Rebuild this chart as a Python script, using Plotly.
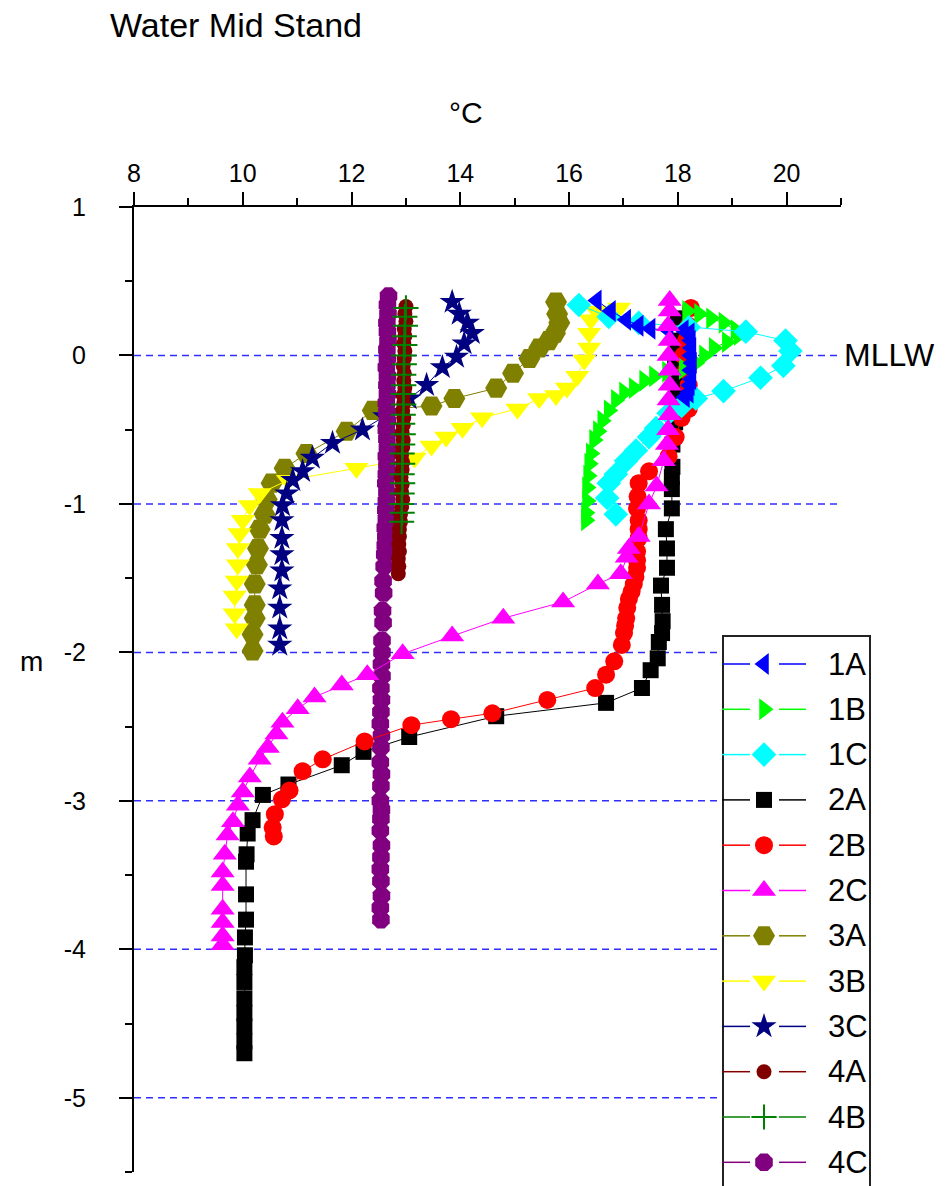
import plotly.graph_objects as go

# ---------------- data (temperature °C, depth m) ----------------
T1A = [16.51, 16.77, 17.05, 17.28, 17.50, 17.83, 18.11, 18.22, 18.24, 18.25, 18.24, 18.26, 18.24, 18.25, 18.22, 18.20, 18.13]
D1A = [0.37, 0.30, 0.24, 0.20, 0.18, 0.17, 0.17, 0.15, 0.10, 0.05, 0.0, -0.05, -0.10, -0.16, -0.20, -0.25, -0.28]

T1B = [18.17, 18.39, 18.61, 18.84, 19.06, 19.12, 18.90, 18.66, 18.48, 18.33, 18.11, 17.80, 17.56, 17.38, 17.19, 17.01, 16.86, 16.73, 16.61, 16.53, 16.46, 16.40, 16.37, 16.35, 16.33, 16.33, 16.31, 16.31]
D1B = [0.30, 0.28, 0.25, 0.22, 0.17, 0.14, 0.09, 0.05, 0.0, -0.05, -0.09, -0.11, -0.14, -0.17, -0.22, -0.25, -0.30, -0.37, -0.44, -0.51, -0.57, -0.66, -0.73, -0.81, -0.89, -0.98, -1.06, -1.11]

T1C = [16.18, 16.73, 17.28, 18.20, 19.25, 19.98, 20.07, 19.94, 19.52, 18.84, 18.33, 18.07, 17.83, 17.60, 17.47, 17.23, 17.05, 16.86, 16.73, 16.70, 16.86]
D1C = [0.34, 0.26, 0.22, 0.19, 0.16, 0.10, 0.03, -0.07, -0.15, -0.24, -0.29, -0.34, -0.39, -0.49, -0.55, -0.64, -0.71, -0.80, -0.86, -0.96, -1.07]

T2A = [18.00, 17.98, 17.95, 17.95, 17.97, 17.95, 17.95, 17.90, 17.90, 17.89, 17.89, 17.89, 17.78, 17.80, 17.80, 17.69, 17.71, 17.72, 17.71, 17.65, 17.63, 17.50, 17.34, 16.68, 14.66, 13.06, 12.22, 11.82, 10.84, 10.37, 10.18, 10.09, 10.07, 10.06, 10.06, 10.06, 10.04, 10.04, 10.03, 10.03, 10.03, 10.03, 10.03, 10.03, 10.03]
D2A = [0.25, 0.10, 0.0, -0.10, -0.20, -0.30, -0.45, -0.60, -0.75, -0.82, -0.90, -1.03, -1.17, -1.30, -1.43, -1.55, -1.68, -1.79, -1.87, -1.93, -2.04, -2.12, -2.24, -2.34, -2.43, -2.57, -2.67, -2.76, -2.89, -2.96, -3.13, -3.22, -3.36, -3.41, -3.63, -3.80, -3.92, -4.04, -4.12, -4.22, -4.33, -4.43, -4.52, -4.62, -4.70]

T2B = [18.24, 18.20, 18.15, 18.10, 18.15, 18.20, 18.20, 18.20, 18.07, 17.96, 17.83, 17.47, 17.28, 17.26, 17.25, 17.28, 17.28, 17.28, 17.25, 17.25, 17.25, 17.22, 17.19, 17.15, 17.10, 17.07, 17.05, 17.03, 17.01, 16.97, 16.83, 16.68, 16.48, 15.60, 14.59, 13.83, 13.10, 12.24, 11.47, 11.10, 10.86, 10.72, 10.59, 10.55, 10.57]
D2B = [0.32, 0.20, 0.10, 0.0, -0.10, -0.20, -0.30, -0.36, -0.42, -0.55, -0.68, -0.78, -0.86, -0.95, -1.03, -1.11, -1.17, -1.23, -1.32, -1.38, -1.43, -1.49, -1.54, -1.59, -1.64, -1.70, -1.77, -1.82, -1.87, -1.95, -2.06, -2.15, -2.24, -2.32, -2.41, -2.45, -2.49, -2.60, -2.72, -2.80, -2.93, -2.99, -3.09, -3.18, -3.24]

T2C = [17.85, 17.85, 17.82, 17.85, 17.83, 17.85, 17.85, 17.83, 17.85, 17.82, 17.80, 17.74, 17.61, 17.47, 17.28, 17.10, 17.06, 16.95, 16.53, 15.89, 14.79, 13.85, 12.94, 12.29, 11.82, 11.32, 11.01, 10.73, 10.62, 10.46, 10.31, 10.13, 10.00, 9.91, 9.82, 9.72, 9.67, 9.63, 9.63, 9.63, 9.63, 9.63, 9.63]
D2C = [0.37, 0.30, 0.20, 0.10, 0.0, -0.10, -0.20, -0.30, -0.40, -0.50, -0.60, -0.71, -0.88, -1.00, -1.22, -1.30, -1.36, -1.47, -1.54, -1.66, -1.77, -1.89, -2.01, -2.15, -2.22, -2.30, -2.38, -2.47, -2.55, -2.64, -2.72, -2.84, -2.94, -3.03, -3.14, -3.23, -3.36, -3.48, -3.57, -3.73, -3.82, -3.91, -3.97]

T3A = [15.76, 15.78, 15.82, 15.74, 15.63, 15.45, 15.27, 14.97, 14.66, 13.89, 13.47, 12.39, 11.91, 11.17, 10.77, 10.53, 10.44, 10.40, 10.31, 10.28, 10.26, 10.22, 10.22, 10.22, 10.18, 10.18]
D3A = [0.36, 0.28, 0.22, 0.15, 0.10, 0.05, -0.02, -0.12, -0.22, -0.29, -0.34, -0.37, -0.51, -0.66, -0.76, -0.86, -0.97, -1.07, -1.17, -1.30, -1.41, -1.54, -1.68, -1.77, -1.88, -1.99]

T3B = [16.92, 16.50, 16.40, 16.37, 16.37, 16.28, 16.15, 15.96, 15.76, 15.45, 15.05, 14.40, 14.04, 13.74, 13.47, 13.16, 12.09, 10.83, 10.31, 10.13, 10.00, 9.94, 9.91, 9.91, 9.89, 9.85, 9.85, 9.89]
D3B = [0.32, 0.30, 0.24, 0.15, 0.05, -0.03, -0.14, -0.22, -0.27, -0.29, -0.36, -0.42, -0.49, -0.55, -0.61, -0.69, -0.76, -0.84, -0.93, -1.01, -1.11, -1.20, -1.30, -1.41, -1.52, -1.62, -1.74, -1.84]

T3C = [13.85, 13.98, 14.13, 14.22, 14.07, 13.93, 13.67, 13.38, 13.06, 12.61, 12.20, 11.65, 11.28, 11.10, 10.92, 10.81, 10.73, 10.72, 10.72, 10.72, 10.72, 10.68, 10.68, 10.68, 10.68]
D3C = [0.36, 0.28, 0.22, 0.15, 0.08, -0.01, -0.08, -0.20, -0.29, -0.41, -0.50, -0.59, -0.69, -0.78, -0.84, -0.93, -1.01, -1.11, -1.23, -1.34, -1.45, -1.57, -1.70, -1.84, -1.95]

T4A = [13.00, 12.98, 13.00, 12.97, 12.98, 12.96, 12.98, 12.97, 12.95, 12.97, 12.96, 12.98, 12.95, 12.96, 12.94, 12.96, 12.95, 12.93, 12.95, 12.94, 12.92, 12.94, 12.93, 12.91, 12.93, 12.92, 12.94, 12.92, 12.90, 12.90, 12.88, 12.88, 12.87, 12.88, 12.86, 12.87, 12.86]
D4A = [0.33, 0.28, 0.23, 0.18, 0.13, 0.08, 0.03, -0.02, -0.07, -0.12, -0.17, -0.22, -0.27, -0.32, -0.37, -0.42, -0.47, -0.52, -0.57, -0.62, -0.67, -0.72, -0.77, -0.82, -0.87, -0.92, -0.97, -1.02, -1.07, -1.12, -1.17, -1.22, -1.27, -1.32, -1.37, -1.42, -1.47]

T4B = [13.00, 12.98, 12.99, 12.97, 12.98, 12.96, 12.97, 12.96, 12.96, 12.95, 12.96, 12.95, 12.94, 12.95, 12.94, 12.93, 12.94, 12.93, 12.94, 12.93, 12.92, 12.93, 12.92]
D4B = [0.32, 0.26, 0.20, 0.13, 0.07, 0.0, -0.06, -0.13, -0.20, -0.26, -0.33, -0.40, -0.46, -0.53, -0.60, -0.66, -0.73, -0.80, -0.86, -0.93, -1.00, -1.06, -1.12]

T4C = [12.68, 12.66, 12.67, 12.65, 12.66, 12.67, 12.65, 12.66, 12.64, 12.66, 12.65, 12.66, 12.64, 12.65, 12.66, 12.64, 12.65, 12.66, 12.64, 12.65, 12.64, 12.63, 12.65, 12.64, 12.63, 12.64, 12.62, 12.63, 12.62, 12.61,
       12.60, 12.58, 12.59, 12.57, 12.58, 12.56,
       12.56, 12.55, 12.56, 12.54, 12.55, 12.54, 12.53, 12.55, 12.54,
       12.53, 12.55, 12.54, 12.53, 12.55, 12.54, 12.53, 12.55, 12.54, 12.53, 12.54, 12.55, 12.53, 12.54]
D4C = [0.40, 0.34, 0.28, 0.22, 0.16, 0.10, 0.04, -0.02, -0.08, -0.14, -0.20, -0.26, -0.32, -0.38, -0.44, -0.50, -0.56, -0.62, -0.68, -0.74, -0.80, -0.86, -0.92, -0.98, -1.04, -1.10, -1.16, -1.22, -1.28, -1.34,
       -1.42, -1.52, -1.60, -1.72, -1.80, -1.92,
       -2.00, -2.08, -2.16, -2.24, -2.32, -2.40, -2.48, -2.56, -2.64,
       -2.74, -2.82, -2.90, -3.00, -3.06, -3.12, -3.20, -3.30, -3.38, -3.46, -3.54, -3.64, -3.72, -3.80]

GRID_DEPTHS = [0, -1, -2, -3, -4, -5]
Y_TICKS = [1, 0, -1, -2, -3, -4, -5]
Y_TICK_TEXT = ["1", "0", "-1", "-2", "-3", "-4", "-5"]
LEGEND_ORDER = ["1A", "1B", "1C", "2A", "2B", "2C", "3A", "3B", "3C", "4A", "4B", "4C"]

# ---------------- styles ----------------
FONT = "Liberation Sans, Arial, sans-serif"
series = {
    "1A": dict(x=T1A, y=D1A, color="#0000ff", symbol="triangle-left", size=19),
    "1B": dict(x=T1B, y=D1B, color="#00ff00", symbol="triangle-right", size=19),
    "1C": dict(x=T1C, y=D1C, color="#00ffff", symbol="diamond", size=19),
    "2A": dict(x=T2A, y=D2A, color="#000000", symbol="square", size=16),
    "2B": dict(x=T2B, y=D2B, color="#ff0000", symbol="circle", size=18),
    "2C": dict(x=T2C, y=D2C, color="#ff00ff", symbol="triangle-up", size=21),
    "3A": dict(x=T3A, y=D3A, color="#808000", symbol="hexagon2", size=22),
    "3B": dict(x=T3B, y=D3B, color="#ffff00", symbol="triangle-down", size=21),
    "3C": dict(x=T3C, y=D3C, color="#000080", symbol="star", size=19),
    "4A": dict(x=T4A, y=D4A, color="#800000", symbol="circle", size=15),
    "4B": dict(x=T4B, y=D4B, color="#008000", symbol="cross-thin", size=18),
    "4C": dict(x=T4C, y=D4C, color="#800080", symbol="octagon", size=19),
}
draw_order = ["2A", "3A", "3B", "3C", "4C", "4A", "4B", "2B", "1B", "1C", "1A", "2C"]


def marker_for(s, size=None):
    m = dict(symbol=s["symbol"], size=size or s["size"], color=s["color"])
    if s["symbol"] == "cross-thin":
        m["line"] = dict(color=s["color"], width=2)
    else:
        m["line"] = dict(width=0)
    return m


fig = go.Figure()
for name in draw_order:
    s = series[name]
    fig.add_trace(go.Scatter(
        x=s["x"], y=s["y"], mode="lines+markers", name=name,
        line=dict(color=s["color"], width=1),
        marker=marker_for(s), showlegend=False,
    ))

# ---------------- layout geometry (pixels) ----------------
W, H = 947, 1186
L, R, TOP, B = 134, 106, 207, 14
PX0, PX1 = L, W - R
PY0, PY1 = TOP, H - B


def paper_x(px):
    return (px - PX0) / (PX1 - PX0)


def paper_y(py):
    return (PY1 - py) / (PY1 - PY0)


# ---------------- manual legend (pixel overlay axes) ----------------
leg_left, leg_right, leg_top = 723, 870, 636
leg_y0, leg_dy = 664, 45.3
sym_x, line_a, line_b = 764, (722, 750), (779, 806)
for i, name in enumerate(LEGEND_ORDER):
    s = series[name]
    yy = leg_y0 + i * leg_dy
    fig.add_trace(go.Scatter(
        x=[line_a[0], line_a[1], None, line_b[0], line_b[1]], y=[yy, yy, None, yy, yy],
        mode="lines", line=dict(color=s["color"], width=1.5),
        xaxis="x2", yaxis="y2", showlegend=False, hoverinfo="skip"))
    fig.add_trace(go.Scatter(
        x=[sym_x], y=[yy], mode="markers", marker=marker_for(s),
        xaxis="x2", yaxis="y2", showlegend=False, hoverinfo="skip"))
    fig.add_annotation(x=paper_x(826), xref="paper", y=yy, yref="y2", text=name,
                       showarrow=False, xanchor="left", yanchor="middle",
                       font=dict(family=FONT, size=31, color="black"))

shapes = []
for d in GRID_DEPTHS:
    shapes.append(dict(type="line", xref="x", yref="y", x0=8, x1=(21 if d > -2 else 18.8),
                       y0=d, y1=d, layer="below",
                       line=dict(color="#2f2fff", width=1.5, dash="7px,5px")))
shapes.append(dict(type="rect", xref="paper", yref="paper",
                   x0=paper_x(leg_left), x1=paper_x(leg_right),
                   y0=paper_y(H + 20), y1=paper_y(leg_top),
                   line=dict(color="#222222", width=2), fillcolor="rgba(0,0,0,0)", layer="below"))

fig.update_layout(
    width=W, height=H,
    margin=dict(l=L, r=R, t=TOP, b=B),
    plot_bgcolor="white", paper_bgcolor="white",
    showlegend=False,
    font=dict(family=FONT, color="black"),
    shapes=shapes,
    xaxis=dict(range=[8, 21], side="top", showline=True, linecolor="black", linewidth=2,
               ticks="outside", ticklen=13, tickwidth=2, tickcolor="black",
               tick0=8, dtick=2, showgrid=False, zeroline=False,
               tickfont=dict(family=FONT, size=25, color="black"),
               minor=dict(tick0=8, dtick=1, ticks="outside", ticklen=7, tickwidth=2,
                          tickcolor="black", showgrid=False)),
    yaxis=dict(range=[-5.5, 1], showline=True, linecolor="black", linewidth=2,
               ticks="outside", ticklen=13, tickwidth=2, tickcolor="black",
               tickmode="array", tickvals=Y_TICKS, ticktext=Y_TICK_TEXT,
               showgrid=False, zeroline=False,
               ticklabelstandoff=28,
               tickfont=dict(family=FONT, size=25, color="black"),
               minor=dict(tick0=0, dtick=0.5, ticks="outside", ticklen=7, tickwidth=2,
                          tickcolor="black", showgrid=False)),
    xaxis2=dict(range=[PX0, PX1], overlaying="x", anchor="y2", visible=False, fixedrange=True),
    yaxis2=dict(range=[PY1, PY0], overlaying="y", anchor="x2", visible=False, fixedrange=True),
)

# texts
fig.add_annotation(x=paper_x(108), y=paper_y(25), xref="paper", yref="paper", text="Water Mid Stand",
                   showarrow=False, xanchor="left", yanchor="middle",
                   font=dict(family=FONT, size=34, color="black"))
fig.add_annotation(x=paper_x(466), y=paper_y(112), xref="paper", yref="paper", text="°C",
                   showarrow=False, xanchor="center", yanchor="middle",
                   font=dict(family=FONT, size=30, color="black"))
fig.add_annotation(x=paper_x(31), y=paper_y(661), xref="paper", yref="paper", text="m",
                   showarrow=False, xanchor="center", yanchor="middle",
                   font=dict(family=FONT, size=28, color="black"))
fig.add_annotation(x=paper_x(842), y=0, xref="paper", yref="y", text="MLLW",
                   showarrow=False, xanchor="left", yanchor="middle",
                   font=dict(family=FONT, size=32, color="black"))

fig.write_html("out.html")
